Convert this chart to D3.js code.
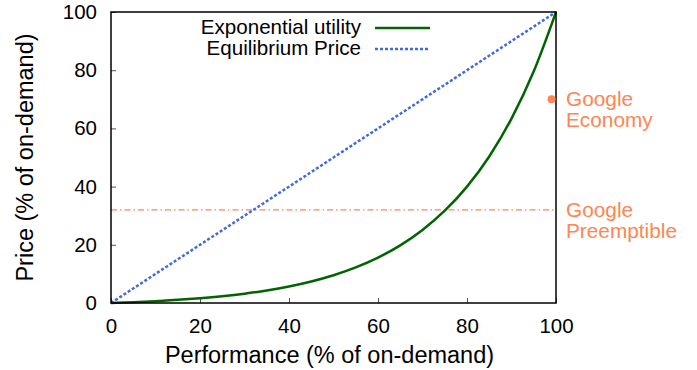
<!DOCTYPE html>
<html><head><meta charset="utf-8">
<script src="https://cdn.jsdelivr.net/npm/d3@7"></script>
<style>body{margin:0;background:#fff}svg{font-family:"Liberation Sans",Arial,sans-serif}</style>
</head><body>
<svg id="c" width="697" height="370"></svg>
<script>
const perf = [0,5,10,15,20,25,30,35,40,45,50,55,60,65,70,75,80,85,90,95,100];
const utility = [0,0.28,0.64,1.08,1.64,2.34,3.21,4.30,5.67,7.39,9.54,12.22,15.59,19.81,25.09,31.71,39.99,50.36,63.36,79.63,100];
const equilibrium = [0,100];
const equilibriumX = [0,100];
const economyPoint = [99,70];
const preemptible = 32;
const ticks = [0,20,40,60,80,100];

const svg = d3.select("#c");
const L=111,R=556,T=12,B=303;
const x = d3.scaleLinear().domain([0,100]).range([L,R]);
const y = d3.scaleLinear().domain([0,100]).range([B,T]);
const coral = "#ff8552";

svg.append("g").attr("transform",`translate(0,${B})`)
  .call(d3.axisBottom(x).tickValues(ticks).tickSizeInner(-5).tickSizeOuter(0).tickPadding(15))
  .call(g=>{g.select(".domain").remove();g.selectAll("text").attr("font-size",20.5).attr("fill","#000").attr("font-family","Liberation Sans, Arial");g.selectAll("line").attr("stroke","#555");});
svg.append("g").attr("transform",`translate(${L},0)`)
  .call(d3.axisLeft(y).tickValues(ticks).tickSizeInner(-5).tickSizeOuter(0).tickPadding(14))
  .call(g=>{g.select(".domain").remove();g.selectAll("text").attr("font-size",20.5).attr("fill","#000").attr("font-family","Liberation Sans, Arial");g.selectAll("line").attr("stroke","#555");});

svg.append("line").attr("x1",x(0)).attr("x2",x(100)).attr("y1",y(preemptible)).attr("y2",y(preemptible))
  .attr("stroke",coral).attr("stroke-width",1.2).attr("stroke-dasharray","6,3,1.5,3");

svg.append("path").datum(equilibriumX.map((d,i)=>[d,equilibrium[i]]))
  .attr("d",d3.line().x(d=>x(d[0])).y(d=>y(d[1])))
  .attr("fill","none").attr("stroke","#4169e1").attr("stroke-width",2.5).attr("stroke-dasharray","3,2");

svg.append("path").datum(perf.map((d,i)=>[d,utility[i]]))
  .attr("d",d3.line().curve(d3.curveMonotoneX).x(d=>x(d[0])).y(d=>y(d[1])))
  .attr("fill","none").attr("stroke","#006400").attr("stroke-width",2.5);

svg.append("rect").attr("x",L).attr("y",T).attr("width",R-L).attr("height",B-T)
  .attr("fill","none").attr("stroke","#000").attr("stroke-width",1.5);

svg.append("circle").attr("cx",x(economyPoint[0])).attr("cy",y(economyPoint[1])).attr("r",4).attr("fill",coral);

const ann = (lines,yy)=>{
  const t=svg.append("text").attr("x",566).attr("y",yy).attr("font-size",20.8).attr("fill",coral);
  lines.forEach((s,i)=>t.append("tspan").attr("x",566).attr("dy",i?21:0).text(s));
};
ann(["Google","Economy"],y(economyPoint[1])+7);
ann(["Google","Preemptible"],y(preemptible)+7);

const leg=[["Exponential utility","#006400",null],["Equilibrium Price","#4169e1","3,2"]];
leg.forEach((d,i)=>{
  const yy=28+i*21;
  svg.append("text").attr("x",361).attr("y",yy+6).attr("text-anchor","end").attr("font-size",20.6).text(d[0]);
  svg.append("line").attr("x1",375).attr("x2",430).attr("y1",yy).attr("y2",yy).attr("stroke",d[1]).attr("stroke-width",2.5).attr("stroke-dasharray",d[2]);
});

svg.append("text").attr("x",(L+R)/2-4).attr("y",363).attr("text-anchor","middle").attr("font-size",23.5).text("Performance (% of on-demand)");
svg.append("text").attr("transform",`translate(33,${(T+B)/2}) rotate(-90)`).attr("text-anchor","middle").attr("font-size",23.5).text("Price (% of on-demand)");
</script>
</body></html>
